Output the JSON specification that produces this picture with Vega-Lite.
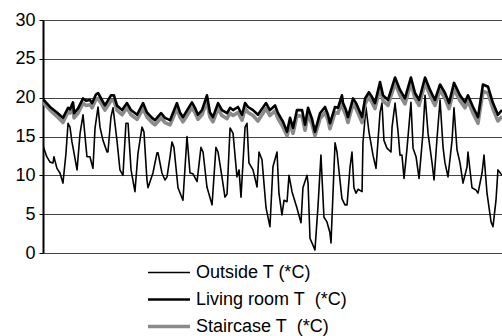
{
  "$schema": "https://vega.github.io/schema/vega-lite/v6.json",
  "width": 459,
  "height": 233,
  "autosize": {"type": "none"},
  "padding": {"left": 43, "top": 20, "right": 0, "bottom": 83},
  "background": "white",
  "config": {"view": {"stroke": null}, "font": "Liberation Sans"},
  "datasets": {
    "temps": [
      {"s":"O","d":0,"T":13.8},{"s":"O","d":0.25,"T":12.4},{"s":"O","d":0.47,"T":11.7},{"s":"O","d":0.67,"T":11.6},{"s":"O","d":0.73,"T":12.4},{"s":"O","d":0.93,"T":10.9},{"s":"O","d":1.13,"T":10.3},{"s":"O","d":1.33,"T":9.0},{"s":"O","d":1.53,"T":12.8},{"s":"O","d":1.67,"T":16.7},{"s":"O","d":1.8,"T":16.2},{"s":"O","d":1.93,"T":14.3},{"s":"O","d":2.0,"T":13.6},{"s":"O","d":2.27,"T":10.7},{"s":"O","d":2.47,"T":15.4},{"s":"O","d":2.67,"T":17.8},{"s":"O","d":2.87,"T":13.6},{"s":"O","d":2.93,"T":12.4},{"s":"O","d":3.13,"T":12.4},{"s":"O","d":3.33,"T":10.9},{"s":"O","d":3.47,"T":16.1},{"s":"O","d":3.67,"T":18.8},{"s":"O","d":3.8,"T":16.2},{"s":"O","d":4.0,"T":14.5},{"s":"O","d":4.27,"T":13.0},{"s":"O","d":4.33,"T":13.0},{"s":"O","d":4.53,"T":17.5},{"s":"O","d":4.67,"T":18.7},{"s":"O","d":4.93,"T":14.5},{"s":"O","d":5.13,"T":10.7},{"s":"O","d":5.33,"T":10.0},{"s":"O","d":5.53,"T":16.7},{"s":"O","d":5.67,"T":16.7},{"s":"O","d":5.87,"T":10.7},{"s":"O","d":6.13,"T":7.9},{"s":"O","d":6.33,"T":12.8},{"s":"O","d":6.6,"T":16.2},{"s":"O","d":6.73,"T":15.6},{"s":"O","d":6.93,"T":9.4},{"s":"O","d":7.0,"T":8.4},{"s":"O","d":7.33,"T":10.3},{"s":"O","d":7.6,"T":12.9},{"s":"O","d":7.67,"T":12.9},{"s":"O","d":7.93,"T":10.3},{"s":"O","d":8.13,"T":9.4},{"s":"O","d":8.27,"T":9.8},{"s":"O","d":8.47,"T":12.4},{"s":"O","d":8.6,"T":14.3},{"s":"O","d":8.73,"T":13.6},{"s":"O","d":9.0,"T":8.4},{"s":"O","d":9.33,"T":6.8},{"s":"O","d":9.6,"T":15.0},{"s":"O","d":9.8,"T":10.3},{"s":"O","d":10.0,"T":10.2},{"s":"O","d":10.27,"T":9.2},{"s":"O","d":10.53,"T":13.6},{"s":"O","d":10.67,"T":13.0},{"s":"O","d":10.93,"T":8.5},{"s":"O","d":11.27,"T":6.2},{"s":"O","d":11.53,"T":13.6},{"s":"O","d":11.67,"T":13.0},{"s":"O","d":11.93,"T":9.8},{"s":"O","d":12.13,"T":7.2},{"s":"O","d":12.27,"T":7.6},{"s":"O","d":12.47,"T":16.1},{"s":"O","d":12.67,"T":15.4},{"s":"O","d":12.93,"T":9.8},{"s":"O","d":13.07,"T":10.7},{"s":"O","d":13.2,"T":7.2},{"s":"O","d":13.47,"T":16.2},{"s":"O","d":13.6,"T":16.7},{"s":"O","d":13.73,"T":11.6},{"s":"O","d":14.0,"T":10.7},{"s":"O","d":14.27,"T":8.5},{"s":"O","d":14.4,"T":13.0},{"s":"O","d":14.6,"T":12.0},{"s":"O","d":14.87,"T":5.8},{"s":"O","d":15.13,"T":3.4},{"s":"O","d":15.33,"T":11.1},{"s":"O","d":15.6,"T":13.0},{"s":"O","d":15.73,"T":7.7},{"s":"O","d":15.93,"T":4.9},{"s":"O","d":16.07,"T":6.8},{"s":"O","d":16.27,"T":6.6},{"s":"O","d":16.4,"T":10.0},{"s":"O","d":16.6,"T":7.9},{"s":"O","d":16.93,"T":5.8},{"s":"O","d":17.2,"T":3.9},{"s":"O","d":17.33,"T":8.4},{"s":"O","d":17.6,"T":10.0},{"s":"O","d":17.67,"T":9.0},{"s":"O","d":17.8,"T":1.9},{"s":"O","d":18.13,"T":0.4},{"s":"O","d":18.33,"T":5.9},{"s":"O","d":18.53,"T":12.6},{"s":"O","d":18.73,"T":4.6},{"s":"O","d":18.93,"T":4.0},{"s":"O","d":19.13,"T":2.6},{"s":"O","d":19.2,"T":1.3},{"s":"O","d":19.47,"T":14.2},{"s":"O","d":19.6,"T":13.0},{"s":"O","d":19.93,"T":7.0},{"s":"O","d":20.13,"T":6.2},{"s":"O","d":20.27,"T":6.2},{"s":"O","d":20.47,"T":11.1},{"s":"O","d":20.6,"T":13.0},{"s":"O","d":20.73,"T":8.4},{"s":"O","d":20.87,"T":7.7},{"s":"O","d":21.0,"T":8.2},{"s":"O","d":21.27,"T":7.9},{"s":"O","d":21.33,"T":14.2},{"s":"O","d":21.53,"T":18.8},{"s":"O","d":21.73,"T":15.6},{"s":"O","d":22.0,"T":12.6},{"s":"O","d":22.2,"T":10.9},{"s":"O","d":22.47,"T":18.1},{"s":"O","d":22.6,"T":19.3},{"s":"O","d":22.73,"T":14.5},{"s":"O","d":22.93,"T":13.5},{"s":"O","d":23.2,"T":13.0},{"s":"O","d":23.27,"T":16.2},{"s":"O","d":23.47,"T":19.3},{"s":"O","d":23.67,"T":15.6},{"s":"O","d":23.8,"T":12.6},{"s":"O","d":23.93,"T":12.6},{"s":"O","d":24.07,"T":9.6},{"s":"O","d":24.27,"T":13.5},{"s":"O","d":24.53,"T":19.4},{"s":"O","d":24.67,"T":13.5},{"s":"O","d":24.87,"T":12.4},{"s":"O","d":25.07,"T":9.6},{"s":"O","d":25.33,"T":15.4},{"s":"O","d":25.47,"T":20.3},{"s":"O","d":25.67,"T":15.4},{"s":"O","d":25.93,"T":11.7},{"s":"O","d":26.07,"T":9.4},{"s":"O","d":26.27,"T":14.8},{"s":"O","d":26.47,"T":19.7},{"s":"O","d":26.67,"T":13.6},{"s":"O","d":26.8,"T":11.6},{"s":"O","d":27.0,"T":9.8},{"s":"O","d":27.27,"T":14.5},{"s":"O","d":27.4,"T":18.7},{"s":"O","d":27.6,"T":13.3},{"s":"O","d":27.8,"T":11.6},{"s":"O","d":28.0,"T":9.0},{"s":"O","d":28.27,"T":11.1},{"s":"O","d":28.33,"T":13.0},{"s":"O","d":28.6,"T":8.4},{"s":"O","d":28.87,"T":8.1},{"s":"O","d":29.0,"T":7.7},{"s":"O","d":29.27,"T":10.3},{"s":"O","d":29.4,"T":12.6},{"s":"O","d":29.6,"T":7.7},{"s":"O","d":29.87,"T":4.0},{"s":"O","d":30.0,"T":3.4},{"s":"O","d":30.2,"T":6.8},{"s":"O","d":30.33,"T":10.7},{"s":"O","d":30.6,"T":10.0},
      {"s":"S","d":0,"T":19.4},{"s":"S","d":0.47,"T":18.4},{"s":"S","d":0.93,"T":17.6},{"s":"S","d":1.33,"T":16.8},{"s":"S","d":1.67,"T":18.2},{"s":"S","d":1.8,"T":18.0},{"s":"S","d":2.0,"T":18.9},{"s":"S","d":2.07,"T":17.4},{"s":"S","d":2.33,"T":18.0},{"s":"S","d":2.67,"T":19.3},{"s":"S","d":2.87,"T":19.0},{"s":"S","d":3.13,"T":19.1},{"s":"S","d":3.27,"T":18.7},{"s":"S","d":3.53,"T":19.8},{"s":"S","d":3.67,"T":19.9},{"s":"S","d":3.93,"T":19.1},{"s":"S","d":4.13,"T":18.4},{"s":"S","d":4.53,"T":19.6},{"s":"S","d":4.73,"T":19.6},{"s":"S","d":4.93,"T":18.4},{"s":"S","d":5.27,"T":17.8},{"s":"S","d":5.6,"T":18.7},{"s":"S","d":5.87,"T":17.8},{"s":"S","d":6.27,"T":17.2},{"s":"S","d":6.67,"T":18.6},{"s":"S","d":6.93,"T":17.5},{"s":"S","d":7.27,"T":16.8},{"s":"S","d":7.47,"T":16.5},{"s":"S","d":7.87,"T":17.4},{"s":"S","d":8.13,"T":16.8},{"s":"S","d":8.47,"T":16.5},{"s":"S","d":8.93,"T":18.6},{"s":"S","d":9.13,"T":17.5},{"s":"S","d":9.33,"T":16.9},{"s":"S","d":9.93,"T":18.7},{"s":"S","d":10.13,"T":18.1},{"s":"S","d":10.33,"T":17.2},{"s":"S","d":10.6,"T":17.8},{"s":"S","d":10.93,"T":19.5},{"s":"S","d":11.13,"T":17.5},{"s":"S","d":11.33,"T":16.9},{"s":"S","d":11.67,"T":18.6},{"s":"S","d":11.93,"T":17.7},{"s":"S","d":12.27,"T":17.3},{"s":"S","d":12.47,"T":18.0},{"s":"S","d":12.67,"T":17.7},{"s":"S","d":13.0,"T":18.1},{"s":"S","d":13.27,"T":17.1},{"s":"S","d":13.47,"T":18.6},{"s":"S","d":13.67,"T":18.1},{"s":"S","d":14.0,"T":17.7},{"s":"S","d":14.33,"T":17.0},{"s":"S","d":14.87,"T":18.6},{"s":"S","d":15.13,"T":17.7},{"s":"S","d":15.47,"T":18.3},{"s":"S","d":15.67,"T":17.3},{"s":"S","d":16.0,"T":16.2},{"s":"S","d":16.27,"T":15.1},{"s":"S","d":16.47,"T":16.7},{"s":"S","d":16.67,"T":15.4},{"s":"S","d":16.93,"T":17.7},{"s":"S","d":17.27,"T":17.6},{"s":"S","d":17.47,"T":15.8},{"s":"S","d":17.67,"T":17.9},{"s":"S","d":17.93,"T":16.6},{"s":"S","d":18.13,"T":15.1},{"s":"S","d":18.47,"T":17.3},{"s":"S","d":18.8,"T":18.1},{"s":"S","d":19.0,"T":17.1},{"s":"S","d":19.13,"T":16.0},{"s":"S","d":19.47,"T":18.1},{"s":"S","d":19.67,"T":18.0},{"s":"S","d":19.93,"T":19.6},{"s":"S","d":20.0,"T":18.6},{"s":"S","d":20.2,"T":17.7},{"s":"S","d":20.33,"T":16.8},{"s":"S","d":20.67,"T":19.2},{"s":"S","d":20.87,"T":18.6},{"s":"S","d":21.07,"T":17.7},{"s":"S","d":21.27,"T":16.8},{"s":"S","d":21.47,"T":19.2},{"s":"S","d":21.73,"T":20.1},{"s":"S","d":21.93,"T":19.4},{"s":"S","d":22.13,"T":18.6},{"s":"S","d":22.47,"T":21.3},{"s":"S","d":22.67,"T":19.6},{"s":"S","d":23.0,"T":19.0},{"s":"S","d":23.47,"T":21.9},{"s":"S","d":23.8,"T":20.3},{"s":"S","d":24.13,"T":19.2},{"s":"S","d":24.53,"T":21.9},{"s":"S","d":24.8,"T":19.9},{"s":"S","d":25.07,"T":19.0},{"s":"S","d":25.47,"T":21.9},{"s":"S","d":25.8,"T":20.3},{"s":"S","d":26.13,"T":19.0},{"s":"S","d":26.47,"T":21.0},{"s":"S","d":26.8,"T":19.9},{"s":"S","d":27.07,"T":18.6},{"s":"S","d":27.4,"T":21.1},{"s":"S","d":27.8,"T":19.6},{"s":"S","d":28.13,"T":18.7},{"s":"S","d":28.33,"T":19.6},{"s":"S","d":28.67,"T":18.0},{"s":"S","d":29.0,"T":16.7},{"s":"S","d":29.33,"T":20.8},{"s":"S","d":29.67,"T":20.6},{"s":"S","d":30.0,"T":18.5},{"s":"S","d":30.33,"T":17.0},{"s":"S","d":30.6,"T":17.6},
      {"s":"L","d":0,"T":19.8},{"s":"L","d":0.47,"T":18.8},{"s":"L","d":0.93,"T":18.1},{"s":"L","d":1.33,"T":17.4},{"s":"L","d":1.67,"T":18.7},{"s":"L","d":1.8,"T":18.5},{"s":"L","d":2.0,"T":19.4},{"s":"L","d":2.07,"T":18.0},{"s":"L","d":2.33,"T":18.6},{"s":"L","d":2.67,"T":19.9},{"s":"L","d":2.87,"T":19.6},{"s":"L","d":3.13,"T":19.7},{"s":"L","d":3.27,"T":19.3},{"s":"L","d":3.53,"T":20.4},{"s":"L","d":3.67,"T":20.6},{"s":"L","d":3.93,"T":19.7},{"s":"L","d":4.13,"T":19.0},{"s":"L","d":4.53,"T":20.3},{"s":"L","d":4.73,"T":20.3},{"s":"L","d":4.93,"T":19.0},{"s":"L","d":5.27,"T":18.4},{"s":"L","d":5.6,"T":19.3},{"s":"L","d":5.87,"T":18.4},{"s":"L","d":6.27,"T":17.8},{"s":"L","d":6.67,"T":19.3},{"s":"L","d":6.93,"T":18.1},{"s":"L","d":7.27,"T":17.4},{"s":"L","d":7.47,"T":17.1},{"s":"L","d":7.87,"T":18.0},{"s":"L","d":8.13,"T":17.4},{"s":"L","d":8.47,"T":17.1},{"s":"L","d":8.93,"T":19.3},{"s":"L","d":9.13,"T":18.1},{"s":"L","d":9.33,"T":17.5},{"s":"L","d":9.93,"T":19.4},{"s":"L","d":10.13,"T":18.7},{"s":"L","d":10.33,"T":17.8},{"s":"L","d":10.6,"T":18.4},{"s":"L","d":10.93,"T":20.3},{"s":"L","d":11.13,"T":18.1},{"s":"L","d":11.33,"T":17.5},{"s":"L","d":11.67,"T":19.3},{"s":"L","d":11.93,"T":18.4},{"s":"L","d":12.27,"T":18.0},{"s":"L","d":12.47,"T":18.7},{"s":"L","d":12.67,"T":18.4},{"s":"L","d":13.0,"T":18.8},{"s":"L","d":13.27,"T":17.8},{"s":"L","d":13.47,"T":19.3},{"s":"L","d":13.67,"T":18.8},{"s":"L","d":14.0,"T":18.4},{"s":"L","d":14.33,"T":17.8},{"s":"L","d":14.87,"T":19.3},{"s":"L","d":15.13,"T":18.4},{"s":"L","d":15.47,"T":19.0},{"s":"L","d":15.67,"T":18.0},{"s":"L","d":16.0,"T":16.9},{"s":"L","d":16.27,"T":15.6},{"s":"L","d":16.47,"T":17.4},{"s":"L","d":16.67,"T":16.1},{"s":"L","d":16.93,"T":18.4},{"s":"L","d":17.27,"T":18.4},{"s":"L","d":17.47,"T":16.5},{"s":"L","d":17.67,"T":18.7},{"s":"L","d":17.93,"T":17.3},{"s":"L","d":18.13,"T":15.6},{"s":"L","d":18.47,"T":18.0},{"s":"L","d":18.8,"T":18.8},{"s":"L","d":19.0,"T":17.8},{"s":"L","d":19.13,"T":16.7},{"s":"L","d":19.47,"T":18.8},{"s":"L","d":19.67,"T":18.7},{"s":"L","d":19.93,"T":20.3},{"s":"L","d":20.0,"T":19.3},{"s":"L","d":20.2,"T":18.4},{"s":"L","d":20.33,"T":17.5},{"s":"L","d":20.67,"T":19.9},{"s":"L","d":20.87,"T":19.3},{"s":"L","d":21.07,"T":18.4},{"s":"L","d":21.27,"T":17.5},{"s":"L","d":21.47,"T":19.9},{"s":"L","d":21.73,"T":20.7},{"s":"L","d":21.93,"T":20.1},{"s":"L","d":22.13,"T":19.3},{"s":"L","d":22.47,"T":22.0},{"s":"L","d":22.67,"T":20.3},{"s":"L","d":23.0,"T":19.7},{"s":"L","d":23.47,"T":22.6},{"s":"L","d":23.8,"T":21.0},{"s":"L","d":24.13,"T":19.9},{"s":"L","d":24.53,"T":22.6},{"s":"L","d":24.8,"T":20.6},{"s":"L","d":25.07,"T":19.7},{"s":"L","d":25.47,"T":22.6},{"s":"L","d":25.8,"T":21.0},{"s":"L","d":26.13,"T":19.7},{"s":"L","d":26.47,"T":21.7},{"s":"L","d":26.8,"T":20.6},{"s":"L","d":27.07,"T":19.3},{"s":"L","d":27.4,"T":21.9},{"s":"L","d":27.8,"T":20.3},{"s":"L","d":28.13,"T":19.4},{"s":"L","d":28.33,"T":20.3},{"s":"L","d":28.67,"T":18.8},{"s":"L","d":29.0,"T":17.5},{"s":"L","d":29.33,"T":21.7},{"s":"L","d":29.67,"T":21.4},{"s":"L","d":30.0,"T":19.3},{"s":"L","d":30.33,"T":17.8},{"s":"L","d":30.6,"T":18.4}
    ]
  },
  "data": {"name": "temps"},
  "mark": {"type": "line", "strokeJoin": "round", "strokeCap": "butt", "clip": true},
  "encoding": {
    "x": {"field": "d", "type": "quantitative", "scale": {"domain": [0, 30.6], "nice": false, "zero": false}, "axis": null},
    "y": {"field": "T", "type": "quantitative", "scale": {"domain": [0, 30], "nice": false},
      "axis": {"values": [0, 5, 10, 15, 20, 25, 30], "title": null, "grid": true, "gridColor": "#444444", "gridWidth": 1, "gridOpacity": 1,
        "domainColor": "#000000", "domainWidth": 2, "tickColor": "#000000", "tickSize": 4, "tickWidth": 1,
        "labelFontSize": 18, "labelColor": "#000000", "labelFont": "Liberation Sans", "labelPadding": 4}},
    "color": {"field": "s", "type": "nominal",
      "scale": {"domain": ["O", "L", "S"], "range": ["#000000", "#000000", "#8a8a8a"]},
      "legend": {"title": null, "orient": "none", "legendX": 103, "legendY": 239, "direction": "vertical",
        "symbolType": "stroke", "symbolSize": 1764, "labelFontSize": 18, "labelFont": "Liberation Sans", "labelColor": "#000000",
        "labelOffset": 4, "rowPadding": 0, "clipHeight": 27,
        "labelExpr": "datum.value == 'O' ? 'Outside T (*C)' : datum.value == 'L' ? 'Living room T\u00a0 (*C)' : 'Staircase T\u00a0 (*C)'"}},
    "strokeWidth": {"field": "s", "type": "nominal", "scale": {"domain": ["O", "L", "S"], "range": [1.6, 3.6, 1.7]}, "legend": null},
    "detail": {"field": "s"}
  }
}
